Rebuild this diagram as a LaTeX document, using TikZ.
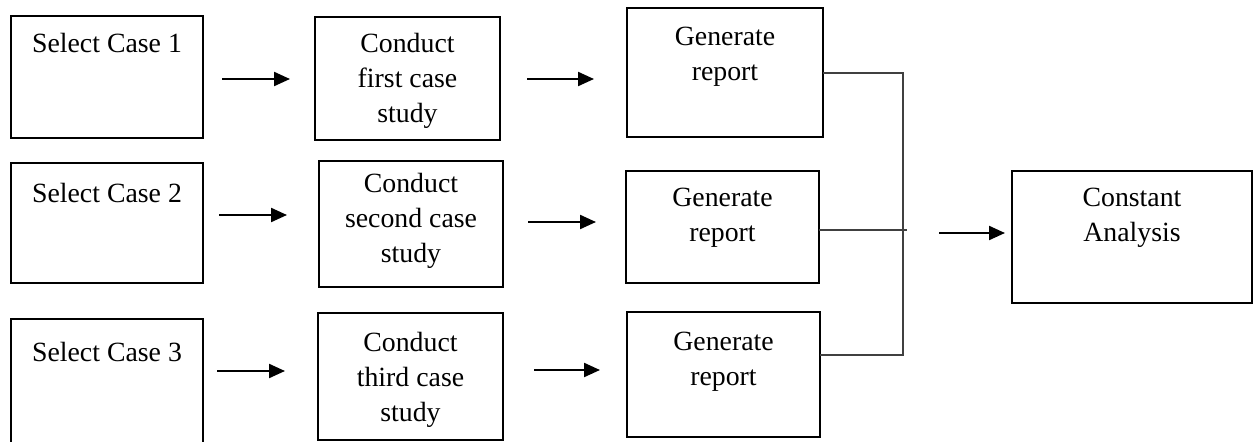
\documentclass[tikz,border=0pt]{standalone}
\usepackage{fontspec}
\setmainfont{Liberation Serif}
\usetikzlibrary{arrows.meta}
\tikzset{
  x=1pt, y=-1pt,
  box/.style={draw=black, line width=1.6pt, rectangle, inner sep=0pt, outer sep=0pt, anchor=north west},
  txt/.style={anchor=north, inner sep=0pt, align=center, font=\fontsize{27.8}{35}\selectfont},
  flow/.style={line width=2.2pt, -{Triangle[length=16pt,width=14pt]}},
  link/.style={line width=1.3pt, draw=black!75}
}
\begin{document}
\begin{tikzpicture}
\useasboundingbox (0,0) rectangle (1254,442);
\clip (0,0) rectangle (1254,442);
% boxes
\node[box, minimum width=192pt, minimum height=122pt] (s1) at (11,16) {};
\node[box, minimum width=185pt, minimum height=123pt] (c1) at (315,17) {};
\node[box, minimum width=196pt, minimum height=129pt] (g1) at (627,8) {};
\node[box, minimum width=192pt, minimum height=120pt] (s2) at (11,163) {};
\node[box, minimum width=184pt, minimum height=126pt] (c2) at (319,161) {};
\node[box, minimum width=193pt, minimum height=112pt] (g2) at (626,171) {};
\node[box, minimum width=192pt, minimum height=150pt] (s3) at (11,319) {};
\node[box, minimum width=185pt, minimum height=127pt] (c3) at (318,313) {};
\node[box, minimum width=193pt, minimum height=125pt] (g3) at (627,312) {};
\node[box, minimum width=240pt, minimum height=132pt] (ca) at (1012,171) {};
% texts
\node[txt] (s1t) at ([yshift=-17pt]s1.north) {Select Case 1};
\node[txt] (c1t) at ([yshift=-16pt]c1.north) {Conduct\\first case\\study};
\node[txt] (g1t) at ([yshift=-19pt]g1.north) {Generate\\report};
\node[txt] (s2t) at ([yshift=-20pt]s2.north) {Select Case 2};
\node[txt] (c2t) at ([yshift=-12pt]c2.north) {Conduct\\second case\\study};
\node[txt] (g2t) at ([yshift=-17pt]g2.north) {Generate\\report};
\node[txt] (s3t) at ([yshift=-23pt]s3.north) {Select Case 3};
\node[txt] (c3t) at ([yshift=-19pt]c3.north) {Conduct\\third case\\study};
\node[txt] (g3t) at ([yshift=-20pt]g3.north) {Generate\\report};
\node[txt] (cat) at ([yshift=-17pt]ca.north) {Constant\\Analysis};
% arrow end points
\coordinate (a11) at (222,79); \coordinate (a12) at (290,79);
\coordinate (a13) at (527,79); \coordinate (a14) at (594,79);
\coordinate (a21) at (219,215); \coordinate (a22) at (287,215);
\coordinate (a23) at (528,222); \coordinate (a24) at (596,222);
\coordinate (a31) at (217,371); \coordinate (a32) at (285,371);
\coordinate (a33) at (534,370); \coordinate (a34) at (600,370);
\coordinate (a41) at (939,233); \coordinate (a42) at (1005,233);
\draw[flow] (a11) -- (a12);
\draw[flow] (a13) -- (a14);
\draw[flow] (a21) -- (a22);
\draw[flow] (a23) -- (a24);
\draw[flow] (a31) -- (a32);
\draw[flow] (a33) -- (a34);
\draw[flow] (a41) -- (a42);
% merge lines
\coordinate (j1) at (903,73);
\coordinate (j2) at (907,230);
\coordinate (j3) at (903,355);
\draw[link] (g1.east |- j1) -- (j1) -- (j3) -- (g3.east |- j3);
\draw[link] (g2.east |- j2) -- (j2);
\end{tikzpicture}
\end{document}
